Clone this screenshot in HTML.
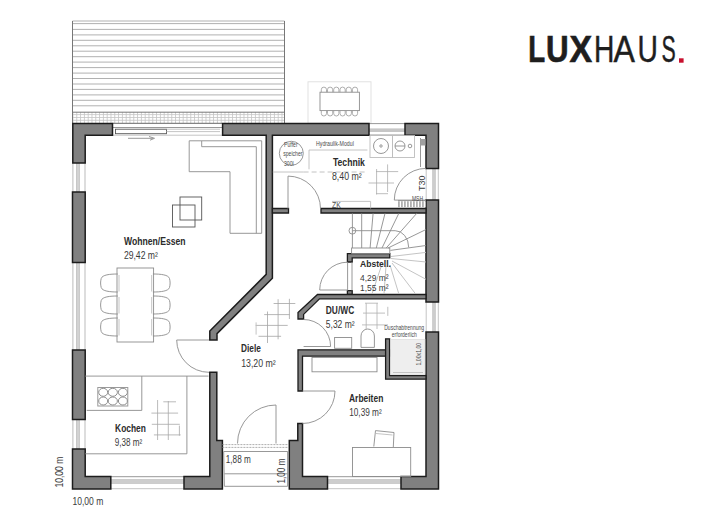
<!DOCTYPE html>
<html><head><meta charset="utf-8">
<style>
html,body{margin:0;padding:0;background:#fff;width:720px;height:530px;overflow:hidden}
svg{position:absolute;left:0;top:0}
text{font-family:"Liberation Sans",sans-serif}
.w{fill:#808080;stroke:#1c1c1c;stroke-width:1.5;stroke-linejoin:miter}
.iw{fill:#808080;stroke:#1c1c1c;stroke-width:1.3}
.ln{fill:none;stroke:#8c8c8c;stroke-width:0.9}
.lt{fill:none;stroke:#bdbdbd;stroke-width:0.9}
.dk{fill:none;stroke:#555;stroke-width:0.9}
.rn{font-weight:bold;font-size:10px;fill:#2b2b2b}
.ar{font-size:10px;fill:#3a3a3a}
.sm{font-size:7px;fill:#4a4a4a}
</style></head>
<body>
<svg width="720" height="530" viewBox="0 0 720 530">
<defs>
<pattern id="gridv" x="72.5" y="0" width="3.8" height="530" patternUnits="userSpaceOnUse">
<rect x="0" y="0" width="0.8" height="530" fill="#c4c4c4"/>
</pattern>
</defs>

<!-- LOGO -->
<g id="logo">
<text x="528.2" y="62.4" font-size="37" font-weight="bold" fill="#1e1e1e" stroke="#1e1e1e" stroke-width="0.7" textLength="16.9" lengthAdjust="spacingAndGlyphs">L</text>
<text x="546.0" y="62.4" font-size="37" font-weight="bold" fill="#1e1e1e" stroke="#1e1e1e" stroke-width="0.7" textLength="22.6" lengthAdjust="spacingAndGlyphs">U</text>
<text x="569.6" y="62.4" font-size="37" font-weight="bold" fill="#1e1e1e" stroke="#1e1e1e" stroke-width="0.7" textLength="22.6" lengthAdjust="spacingAndGlyphs">X</text>
<text x="593.9" y="62.4" font-size="37"  fill="#1e1e1e" stroke="#1e1e1e" stroke-width="0.45" textLength="20.4" lengthAdjust="spacingAndGlyphs">H</text>
<text x="613.6" y="62.4" font-size="37"  fill="#1e1e1e" stroke="#1e1e1e" stroke-width="0.45" textLength="21.4" lengthAdjust="spacingAndGlyphs">A</text>
<text x="637.6" y="62.4" font-size="37"  fill="#1e1e1e" stroke="#1e1e1e" stroke-width="0.45" textLength="20.4" lengthAdjust="spacingAndGlyphs">U</text>
<text x="661.4" y="62.4" font-size="37"  fill="#1e1e1e" stroke="#1e1e1e" stroke-width="0.45" textLength="14.2" lengthAdjust="spacingAndGlyphs">S</text>
<rect x="679" y="58.3" width="4.6" height="4.4" fill="#c8102e"/>
</g>

<!-- TERRACE -->
<g id="terrace">
<path fill="none" stroke="#a8a8a8" stroke-width="0.9" d="M72.5 21.0H284.5 M72.5 23.6H284.5 M72.5 29.4H284.5 M72.5 34.9H284.5 M72.5 40.3H284.5 M72.5 45.8H284.5 M72.5 51.2H284.5 M72.5 56.7H284.5 M72.5 62.1H284.5 M72.5 67.6H284.5 M72.5 73.1H284.5 M72.5 78.5H284.5 M72.5 84.0H284.5 M72.5 89.4H284.5 M72.5 94.9H284.5 M72.5 100.3H284.5 M72.5 105.8H284.5"/>
<rect x="72.5" y="112.2" width="212" height="10.8" fill="url(#gridv)"/>
<path fill="none" stroke="#c4c4c4" stroke-width="0.8" d="M72.5 114.6H284.5 M72.5 117.5H284.5 M72.5 120.3H284.5"/>
<path fill="none" stroke="#777" stroke-width="1" d="M72.5 21V123 M284.5 21V123 M72.5 112.2H284.5"/>
</g>

<!-- OUTDOOR TABLE -->
<g id="otable">
<rect x="308" y="81.8" width="63" height="41.5" fill="none" stroke="#dedede" stroke-width="0.9"/>
<rect class="ln" x="320" y="92.2" width="39.4" height="18.4"/>
<path fill="none" stroke="#999" stroke-width="0.8" d="M321.3 92.2V89.7A2.6 2.6 0 0 1 326.5 89.7V92.2 M327.5 92.2V89.7A2.6 2.6 0 0 1 332.7 89.7V92.2 M333.7 92.2V89.7A2.6 2.6 0 0 1 338.9 89.7V92.2 M340.0 92.2V89.7A2.6 2.6 0 0 1 345.2 89.7V92.2 M346.2 92.2V89.7A2.6 2.6 0 0 1 351.4 89.7V92.2 M352.4 92.2V89.7A2.6 2.6 0 0 1 357.6 89.7V92.2 M321.3 110.6V113.4A2.6 2.6 0 0 0 326.5 113.4V110.6 M327.5 110.6V113.4A2.6 2.6 0 0 0 332.7 113.4V110.6 M333.7 110.6V113.4A2.6 2.6 0 0 0 338.9 113.4V110.6 M340.0 110.6V113.4A2.6 2.6 0 0 0 345.2 113.4V110.6 M346.2 110.6V113.4A2.6 2.6 0 0 0 351.4 113.4V110.6 M352.4 110.6V113.4A2.6 2.6 0 0 0 357.6 113.4V110.6"/>
</g>

<!-- WINDOWS / OPENINGS -->
<g id="windows">
<!-- sliding door top -->
<path class="dk" d="M112.5 123.3H222"/>
<path class="ln" d="M112.5 127.5H222"/><path class="lt" d="M112.5 135.2H222"/>
<rect class="dk" x="115.5" y="129.2" width="51" height="4.5"/>
<path class="lt" d="M166.5 129.2H220 M166.5 131.6H220"/>
<path class="ln" d="M128 138.3H153 M149 136.5L154.5 138.3L150 140.2"/>
<!-- top window Technik -->
<path class="ln" d="M369 123.6H405 M369 135H405"/>
<rect x="369" y="128.4" width="36" height="3.6" fill="#c6c6c6"/>
<!-- left windows -->
<path fill="none" stroke="#aaa" stroke-width="0.8" d="M72.9 163V192 M85 163V192 M72.9 262.5V350 M85 262.5V350 M72.9 419.5V449 M85 419.5V449"/>
<g fill="#d2d2d2" stroke="#b0b0b0" stroke-width="0.5"><rect x="76.3" y="163" width="3.3" height="29"/><rect x="76.3" y="262.5" width="3.3" height="87.5"/><rect x="76.3" y="419.5" width="3.3" height="29.5"/></g>
<!-- right windows -->
<path class="lt" d="M426.2 168.6V200 M438.3 168.6V200 M426.2 302V332 M438.3 302V332"/>
<rect x="432.6" y="168.6" width="2.8" height="31.4" fill="#cdcdcd" stroke="#b5b5b5" stroke-width="0.5"/><rect x="432.6" y="302" width="2.8" height="30" fill="#cdcdcd" stroke="#b5b5b5" stroke-width="0.5"/>
<!-- bottom windows -->
<path class="ln" d="M110.8 476.7H184 M327.5 476.7H401"/><path class="lt" d="M110.8 488.7H184 M327.5 488.7H401"/>
<rect x="110.8" y="479.4" width="73.2" height="4.2" fill="#cdcdcd" stroke="#b8b8b8" stroke-width="0.5"/><rect x="327.5" y="479.4" width="73.5" height="4.2" fill="#cdcdcd" stroke="#b8b8b8" stroke-width="0.5"/>
</g>

<!-- WALLS -->
<g id="walls">
<path class="w" d="M72.8 123.5 H112.5 V135.2 H85.2 V163 H72.8 Z"/>
<path class="w" d="M72.5 192 H85.2 V262.5 H72.5 Z"/>
<path class="w" d="M72.5 350 H85.2 V419.5 H72.5 Z"/>
<path class="w" d="M72.5 449 H85.2 V476.5 H110.8 V489 H72.5 Z"/>
<path class="w" d="M222.6 123.5 H369 V135.2 H272.4 V278.3 L217 333.6 V340 H209.8 V331 L266.2 274.4 V135.2 H222.6 Z"/>
<path class="w" d="M405 123.5 H438.5 V168.6 H426 V135.2 H405 Z"/>
<path class="w" d="M426 200 H438.5 V302 H426 Z"/>
<path class="w" d="M426 332 H438.5 V489 H401 V476.5 H426 Z"/>
<path class="w" d="M184 476.5 H209.8 V372.3 H216.8 V440.4 H222.4 V489 H184 Z"/>
<path class="w" d="M297.8 423.5 H302.5 V476.5 H327.5 V489 H289.3 V440.4 H297.8 Z"/>
<path class="iw" d="M272.4 208.5 H288.5 V213 H272.4 Z"/>
<path class="iw" d="M321 208.5 H426 V213 H321 Z"/>
<path class="iw" d="M347.4 253.6 H389.8 V257.8 H352.2 V262 H347.4 Z"/>
<path class="iw" d="M347.4 290.6 H352.2 V294.5 H347.4 Z"/>
<path class="iw" d="M317.5 294.5 H426 V298.8 H319.5 L303.6 314.4 V319 H298 V312.6 Z"/>
<path class="iw" d="M298 349.8 H389.6 V356.2 H302.5 V391 H298 Z"/>
<path class="iw" d="M385.6 338.8 H389.6 V375.6 H426 V379.2 H385.6 Z"/>
</g>

<!-- FURNITURE -->
<g id="furn">
<!-- sofa -->
<path class="ln" d="M189.2 140.8H261.7V233.3H230V171.7H189.2Z"/>
<path class="ln" d="M201.7 141V146.7H256.3V233.3"/>
<!-- coffee table -->
<rect class="dk" x="180" y="197" width="21.7" height="23"/>
<rect class="dk" x="172.5" y="205" width="22.5" height="22"/>
<!-- dining -->
<rect class="ln" x="117" y="268" width="36.6" height="74"/>
<path class="ln" d="M117.8 274 C109.8 274 102.3 274.8 101.2 278.5 C100.4 281.5 100.4 284.5 101.2 287.5 C102.3 291.2 109.8 292 117.8 292 M117.8 296 C109.8 296 102.3 296.8 101.2 300.5 C100.4 303.5 100.4 306.5 101.2 309.5 C102.3 313.2 109.8 314 117.8 314 M117.8 318 C109.8 318 102.3 318.8 101.2 322.5 C100.4 325.5 100.4 328.5 101.2 331.5 C102.3 335.2 109.8 336 117.8 336 M152.9 274 C160.9 274 168.4 274.8 169.5 278.5 C170.3 281.5 170.3 284.5 169.5 287.5 C168.4 291.2 160.9 292 152.9 292 M152.9 296 C160.9 296 168.4 296.8 169.5 300.5 C170.3 303.5 170.3 306.5 169.5 309.5 C168.4 313.2 160.9 314 152.9 314 M152.9 318 C160.9 318 168.4 318.8 169.5 322.5 C170.3 325.5 170.3 328.5 169.5 331.5 C168.4 335.2 160.9 336 152.9 336"/>
<path class="lt" d="M119 275V291.5 M119 297V313.5 M119 319V335.5 M151.7 275V291.5 M151.7 297V313.5 M151.7 319V335.5"/>
<!-- kitchen -->
<path class="ln" d="M85.2 376.1H208.5 M86.7 410.4H141.8V376.1 M186.9 376.1V453.8H85.2"/>
<rect x="97.8" y="387.5" width="30" height="18.5" fill="none" stroke="#9a9a9a" stroke-width="1"/>
<g fill="none" stroke="#8e8e8e" stroke-width="1">
<ellipse cx="103.2" cy="392.3" rx="4.5" ry="4"/><ellipse cx="112.8" cy="392.3" rx="4.6" ry="4"/><ellipse cx="122.9" cy="392.3" rx="4.5" ry="4"/>
<ellipse cx="103.2" cy="401" rx="4.5" ry="4"/><ellipse cx="112.8" cy="401" rx="4.6" ry="4"/><ellipse cx="122.9" cy="401" rx="4.5" ry="4"/>
</g>
<path fill="none" stroke="#a8a8a8" stroke-width="0.8" d="M157.6 400V440 M168.3 401V440 M179.4 425.6V435.7 M163.3 401.8H176 M151.4 413.1H178.1 M151.8 424.3H179.8 M153.9 434.9H180.7"/>
<!-- Diele tile grid -->
<path fill="none" stroke="#a5a5a5" stroke-width="0.8" d="M267.5 311.5V343 M278.1 299.2V339.3 M289.4 298.8V319 M273.6 303.5H295.3 M264.2 314.6H289.6 M255.7 325.4H287.7 M258.5 336.3H281.1"/><path class="lt" d="M256.1 322.4V334.6"/>
<!-- Technik -->
<circle class="ln" cx="291.3" cy="153.3" r="12"/>
<path class="lt" d="M309 150H367.4 M309 150V169.3"/>
<path fill="none" stroke="#bbb" stroke-width="0.9" stroke-dasharray="5 3" d="M303.6 172H367.4"/><path class="lt" d="M272.8 172H303.6"/>
<path class="lt" d="M332 201.4H370.6V208.5"/>
<rect class="lt" x="370" y="135.5" width="22.5" height="22"/>
<circle class="ln" cx="381" cy="146" r="7.5"/>
<circle class="ln" cx="381" cy="146" r="1.2"/>
<rect class="lt" x="392.5" y="135.5" width="22" height="22"/>
<circle class="ln" cx="400" cy="146" r="5"/>
<path class="ln" d="M395 146H405"/>
<circle class="ln" cx="410" cy="146" r="1.8"/>
<path fill="none" stroke="#acacac" stroke-width="0.8" d="M376.6 169V194.5 M387.6 164.4V192 M376 171.6H398.2 M368.5 183H394 M376 193.7H388"/>
<path class="ln" d="M420.5 138V167"/><rect x="420.5" y="139" width="5" height="6.5" fill="#a0a0a0"/>
<!-- doors -->
<path class="ln" d="M288 208.6V176.1A32.5 32.5 0 0 1 320.5 208.6"/>
<path class="ln" d="M426 168.4A31.7 31.7 0 0 0 394.3 200.1H426"/>
<path d="M398 204.2H426" stroke="#b0b0b0" stroke-width="6" stroke-dasharray="1.8 1.2"/><path class="ln" d="M398 200.6H426"/>
<path class="ln" d="M176.7 340H209 M176.7 340A32.3 32.3 0 0 0 209 372.3"/>
<path class="ln" d="M303.6 319.5A27 27 0 0 1 330.6 346.5H303.6"/>
<path class="ln" d="M302.5 391H335A32.5 32.5 0 0 1 302.5 423.5"/>
<path class="ln" d="M276 443.5V405A38.5 38.5 0 0 0 237.5 443.5"/>
<path class="ln" d="M347.5 262.2A27.8 27.8 0 0 0 319.7 290H347.5"/>
<path class="ln" d="M347.6 262V290.5 M352 262V290.5"/>
<!-- stairs -->
<g class="ln">
<path d="M352.4 213.4V248 M361.7 213.4V248 M373.1 213.4L370.1 248 M385 213.4L376.3 248 M398.8 213.4L382 248 M416.7 213.4L386.2 248 M426 229.5L388 248 M426 245.5L390.4 250.4"/>
<path d="M352.4 230.7H395.2A13.5 16.7 0 0 1 408.7 247.4"/>
</g>
<circle class="ln" cx="352.4" cy="230.7" r="3.4"/>
<rect class="ln" x="351.6" y="248" width="38.2" height="5.5"/>
<g class="lt">
<path d="M391 256.5L426 252.4 M391 258.5L426 262 M392 261L426 279.3 M392 263L415.5 293.8 M390 265L398.8 293.8 M386 266L384 293.8 M381 267L372 293.8"/>
</g>
<!-- DU/WC -->
<rect class="ln" x="334.6" y="337.5" width="17.1" height="10.8"/>
<path class="ln" d="M361 347.4V336A6.7 7 0 0 1 374.4 336V347.4Z"/>
<path fill="none" stroke="#b0b0b0" stroke-width="0.8" d="M366.2 303.2V329 M377 303.2V329 M363 313.1H385 M362 324.9H388 M365 303.2H378 M387.8 306.8V315.9"/>
<rect x="390.6" y="339.6" width="34.4" height="34.8" fill="#eeeeee" stroke="#d8d8d8" stroke-width="0.6"/>
<path class="lt" d="M393 372.5H423"/>
<!-- Arbeiten -->
<rect class="ln" x="312" y="357.4" width="65" height="14.4"/>
<rect class="ln" x="352.5" y="447.5" width="58.2" height="29"/>
<path class="ln" d="M373.8 446.5L375.5 430.6L394 432.5L393.3 447"/>
<path class="lt" d="M376 433.5L392.5 435"/>
<!-- entry -->
<path fill="none" stroke="#999" stroke-width="0.8" stroke-dasharray="2 1" d="M222.4 444.6H289 M222.4 447.4H289"/>
<path class="ln" d="M223.7 451.5H287.6V486.3H224.4Z M224.4 473.8H287.6"/>
</g>

<!-- TEXT -->
<g id="labels">
<text class="rn" x="123.9" y="245" textLength="61.7" lengthAdjust="spacingAndGlyphs">Wohnen/Essen</text>
<text class="ar" x="123.9" y="259.1" textLength="34" lengthAdjust="spacingAndGlyphs">29,42 m²</text>
<text class="rn" x="332.9" y="165.7" textLength="32" lengthAdjust="spacingAndGlyphs">Technik</text>
<text class="ar" x="332" y="179.6" textLength="29.7" lengthAdjust="spacingAndGlyphs">8,40 m²</text>
<text class="rn" x="241" y="352.3" textLength="19.8" lengthAdjust="spacingAndGlyphs">Diele</text>
<text class="ar" x="241.2" y="366.7" textLength="34.5" lengthAdjust="spacingAndGlyphs">13,20 m²</text>
<text class="rn" x="325.8" y="313.7" textLength="28.4" lengthAdjust="spacingAndGlyphs">DU/WC</text>
<text class="ar" x="325.8" y="327.5" textLength="28.8" lengthAdjust="spacingAndGlyphs">5,32 m²</text>
<text class="rn" x="349" y="401.7" textLength="34.3" lengthAdjust="spacingAndGlyphs">Arbeiten</text>
<text class="ar" x="349.2" y="415.9" textLength="32.5" lengthAdjust="spacingAndGlyphs">10,39 m²</text>
<text class="rn" x="115.1" y="431.7" textLength="30.8" lengthAdjust="spacingAndGlyphs">Kochen</text>
<text class="ar" x="114.8" y="446.3" textLength="27.4" lengthAdjust="spacingAndGlyphs">9,38 m²</text>
<text class="rn" x="360" y="266.7" textLength="31" lengthAdjust="spacingAndGlyphs" style="font-size:9.2px">Abstell.</text>
<text class="ar" x="360" y="281.2" textLength="28.6" lengthAdjust="spacingAndGlyphs" style="font-size:9.6px">4,29 m²</text>
<text class="ar" x="360" y="290.7" textLength="28.6" lengthAdjust="spacingAndGlyphs" style="font-size:9.6px">1,55 m²</text>
<text class="ar" x="72.5" y="505" textLength="30.8" lengthAdjust="spacingAndGlyphs">10,00 m</text>
<text class="ar" transform="translate(63.3 487.5) rotate(-90)" textLength="30.8" lengthAdjust="spacingAndGlyphs">10,00 m</text>
<text class="ar" x="225.8" y="462.6" textLength="25" lengthAdjust="spacingAndGlyphs">1,88 m</text>
<text class="ar" transform="translate(284.9 483.5) rotate(-90)" textLength="25" lengthAdjust="spacingAndGlyphs">1,00 m</text>
<text class="ar" transform="translate(425 191.1) rotate(-90)" textLength="15.5" lengthAdjust="spacingAndGlyphs" style="font-size:8.6px">T30</text>
<text class="sm" x="316" y="145.5" textLength="37.8" lengthAdjust="spacingAndGlyphs">Hydraulik-Modul</text>
<text class="sm" x="284" y="147" textLength="13.7" lengthAdjust="spacingAndGlyphs">Puffer</text>
<text class="sm" x="283.2" y="156" textLength="19.3" lengthAdjust="spacingAndGlyphs">speicher</text>
<text class="sm" x="284" y="165.5" textLength="9.7" lengthAdjust="spacingAndGlyphs">300l</text>
<text class="sm" x="332" y="207.6" textLength="8.8" lengthAdjust="spacingAndGlyphs" style="font-size:8.4px">ZK</text>
<text class="sm" x="412" y="200.6" textLength="11" lengthAdjust="spacingAndGlyphs">MSH</text>
<text class="sm" x="384.2" y="329.6" textLength="40" lengthAdjust="spacingAndGlyphs" style="font-size:7.4px">Duschabtrennung</text>
<text class="sm" x="391.8" y="337.4" textLength="25" lengthAdjust="spacingAndGlyphs" style="font-size:7.4px">erforderlich</text>
<text class="sm" transform="translate(420.5 365.5) rotate(-90)" textLength="22.7" lengthAdjust="spacingAndGlyphs" style="font-size:7.6px">1,00x1,00</text>
</g>
</svg>
</body></html>
